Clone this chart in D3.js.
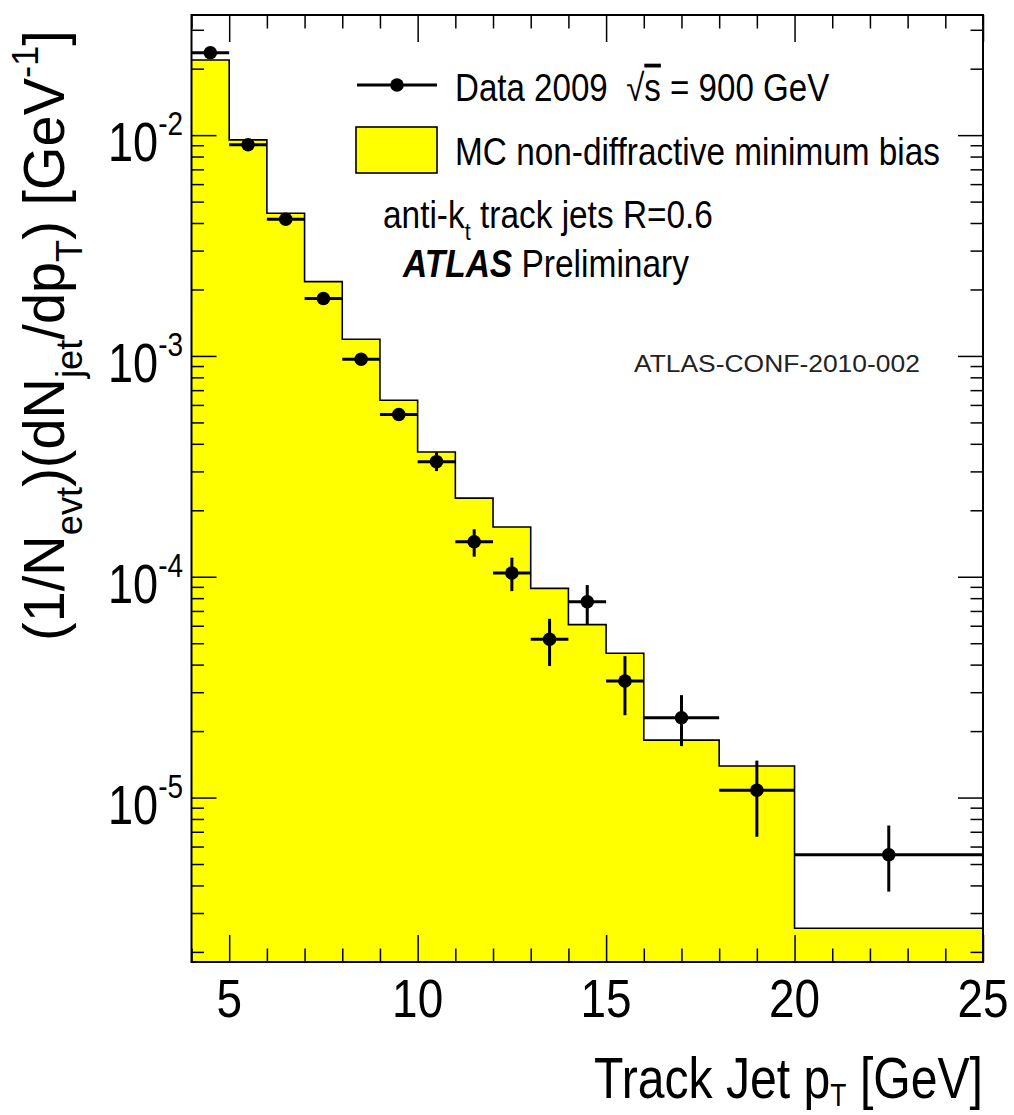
<!DOCTYPE html>
<html>
<head>
<meta charset="utf-8">
<script src="https://cdn.jsdelivr.net/npm/d3@7"></script>
<style>
  html, body { margin: 0; padding: 0; background: #fff; }
  svg { display: block; }
  text { font-family: "Liberation Sans", Arial, Helvetica, sans-serif; fill: #000; }
</style>
</head>
<body>
<svg id="chart" width="1014" height="1115"></svg>
<script>
// ---- data ----
const binEdges = [4, 5, 6, 7, 8, 9, 10, 11, 12, 13, 14, 15, 16, 18, 20, 25];
const mcValues = [0.0219, 0.00952, 0.00443, 0.00217, 0.00119, 0.00063, 0.000367, 0.000227,
                  0.000168, 0.0000886, 0.0000607, 0.0000450, 0.0000182, 0.0000139, 0.00000256];
const dataCenters = [4.5, 5.5, 6.5, 7.5, 8.5, 9.5, 10.5, 11.5, 12.5, 13.5, 14.5, 15.5, 17, 19, 22.5];
const dataValues = [0.0236, 0.00904, 0.00416, 0.00182, 0.000966, 0.000543, 0.000332, 0.000144,
                    0.000104, 0.0000521, 0.0000771, 0.0000337, 0.0000230, 0.0000108, 0.00000551];
const dataLow  = [0.0231, 0.00888, 0.00408, 0.00177, 0.000935, 0.000520, 0.000301, 0.0001233,
                  0.0000861, 0.0000394, 0.0000609, 0.0000236, 0.0000171, 0.00000664, 0.00000375];
const dataHigh = [0.0241, 0.00920, 0.00424, 0.00187, 0.000997, 0.000566, 0.000366, 0.000164,
                  0.000122, 0.0000645, 0.0000917, 0.0000437, 0.0000291, 0.0000147, 0.00000747];
const xMajorTicks = [5, 10, 15, 20, 25];
const yMajorExponents = [-5, -4, -3, -2];

// ---- layout ----
const L = 191.5, R = 983, T = 15, B = 962;
const svg = d3.select("#chart");
const x = d3.scaleLinear().domain([4, 25]).range([L, R]);
const y = d3.scaleLog().domain([1.8e-6, 0.035]).range([B, T]);

// rich text helper
function rich(parent, parts, o) {
  const t = parent.append("text").attr("font-size", o.size).attr("text-anchor", o.anchor || "start");
  if (o.fill) t.style("fill", o.fill);
  let cur = 0;
  parts.forEach(p => {
    const ts = t.append("tspan").text(p.t);
    const off = p.dy || 0;
    if (off !== cur) { ts.attr("dy", off - cur); cur = off; }
    if (p.fs) ts.attr("font-size", o.size * p.fs);
    if (p.bold) ts.attr("font-weight", "bold");
    if (p.italic) ts.attr("font-style", "italic");
    if (p.deco) ts.style("text-decoration", p.deco);
  });
  let sx = o.sx || 1;
  if (o.width) {
    const w = t.node().getBBox().width;
    sx = o.width / w;
  }
  t.attr("transform", `translate(${o.x},${o.y})${o.rotate ? ` rotate(${o.rotate})` : ""} scale(${sx},1)`);
  return t;
}

// ---- histogram (MC) ----
const histPts = binEdges.map((e, i) => [e, mcValues[Math.min(i, mcValues.length - 1)]]);
const area = d3.area().curve(d3.curveStepAfter).x(d => x(d[0])).y0(B).y1(d => y(d[1]));
const line = d3.line().curve(d3.curveStepAfter).x(d => x(d[0])).y(d => y(d[1]));
svg.append("path").datum(histPts).attr("d", area).attr("fill", "#ffff00");
svg.append("path").datum(histPts).attr("d", line).attr("fill", "none").attr("stroke", "#000").attr("stroke-width", 1.6);

// ---- data points ----
svg.append("clipPath").attr("id", "pc").append("rect").attr("x", L).attr("y", T).attr("width", R - L).attr("height", B - T);
const dg = svg.append("g").attr("clip-path", "url(#pc)");
dataCenters.forEach((c, i) => {
  const k = binEdges.findIndex((e, j) => e < c && binEdges[j + 1] > c);
  const lo = binEdges[k], hi = binEdges[k + 1];
  dg.append("line").attr("x1", x(lo)).attr("x2", x(hi)).attr("y1", y(dataValues[i])).attr("y2", y(dataValues[i]))
    .attr("stroke", "#000").attr("stroke-width", 3);
  dg.append("line").attr("x1", x(c)).attr("x2", x(c)).attr("y1", y(dataLow[i])).attr("y2", y(dataHigh[i]))
    .attr("stroke", "#000").attr("stroke-width", 3);
  dg.append("circle").attr("cx", x(c)).attr("cy", y(dataValues[i])).attr("r", 6.8).attr("fill", "#000");
});

// ---- axes / ticks (all four sides, inward) ----
const xMinor = d3.range(4, 26, 1).filter(v => !xMajorTicks.includes(v));
const yMinor = [];
for (let e = -6; e <= -2; e++) for (let k = 2; k <= 9; k++) { const v = k * Math.pow(10, e); if (v >= 1.8e-6 && v <= 0.035) yMinor.push(v); }
const yMajor = yMajorExponents.map(e => Math.pow(10, e));

function styleAxis(g) { g.select(".domain").remove(); g.selectAll("line").attr("stroke", "#000").attr("stroke-width", 1.5); g.selectAll("text").remove(); }

svg.append("g").attr("transform", `translate(0,${B})`).call(d3.axisBottom(x).tickValues(xMajorTicks).tickSize(-27)).call(styleAxis);
svg.append("g").attr("transform", `translate(0,${B})`).call(d3.axisBottom(x).tickValues(xMinor).tickSize(-13.5)).call(styleAxis);
svg.append("g").attr("transform", `translate(0,${T})`).call(d3.axisTop(x).tickValues(xMajorTicks).tickSize(-27)).call(styleAxis);
svg.append("g").attr("transform", `translate(0,${T})`).call(d3.axisTop(x).tickValues(xMinor).tickSize(-13.5)).call(styleAxis);
svg.append("g").attr("transform", `translate(${L},0)`).call(d3.axisLeft(y).tickValues(yMajor).tickSize(-25)).call(styleAxis);
svg.append("g").attr("transform", `translate(${L},0)`).call(d3.axisLeft(y).tickValues(yMinor).tickSize(-12.5)).call(styleAxis);
svg.append("g").attr("transform", `translate(${R},0)`).call(d3.axisRight(y).tickValues(yMajor).tickSize(-25)).call(styleAxis);
svg.append("g").attr("transform", `translate(${R},0)`).call(d3.axisRight(y).tickValues(yMinor).tickSize(-12.5)).call(styleAxis);

// frame
svg.append("rect").attr("x", L).attr("y", T).attr("width", R - L).attr("height", B - T)
  .attr("fill", "none").attr("stroke", "#000").attr("stroke-width", 2);

// tick labels
xMajorTicks.forEach(v => rich(svg, [{ t: String(v) }], { x: x(v), y: 1017, size: 54, sx: 0.85, anchor: "middle" }));
yMajorExponents.forEach(e => rich(svg, [{ t: "10" }, { t: String(e), fs: 0.62, dy: -26 }],
  { x: 183, y: y(Math.pow(10, e)) + 26, size: 55, sx: 0.82, anchor: "end" }));

// axis titles
rich(svg, [{ t: "Track Jet p" }, { t: "T", fs: 0.55, dy: 8 }, { t: " [GeV]", dy: 0 }],
  { x: 983, y: 1098, size: 58, width: 389, anchor: "end" });
rich(svg, [{ t: "(1/N" }, { t: "evt", fs: 0.65, dy: 18 }, { t: ")(dN", dy: 0 }, { t: "jet", fs: 0.65, dy: 18 },
           { t: "/dp", dy: 0 }, { t: "T", fs: 0.65, dy: 18 }, { t: ") [GeV", dy: 0 }, { t: "-1", fs: 0.65, dy: -26 }, { t: "]", dy: 0 }],
  { x: 64, y: 641, size: 57, width: 611, rotate: -90 });

// ---- legend ----
svg.append("line").attr("x1", 357).attr("x2", 437).attr("y1", 85).attr("y2", 85).attr("stroke", "#000").attr("stroke-width", 3);
svg.append("circle").attr("cx", 397).attr("cy", 85).attr("r", 6.8).attr("fill", "#000");
svg.append("rect").attr("x", 356).attr("y", 127).attr("width", 81).attr("height", 46)
  .attr("fill", "#ffff00").attr("stroke", "#000").attr("stroke-width", 1.6);
rich(svg, [{ t: "Data 2009\u00A0\u00A0\u221A" }, { t: "s", deco: "overline" }, { t: " = 900 GeV" }],
  { x: 455, y: 101, size: 38, width: 375 });
rich(svg, [{ t: "MC non-diffractive minimum bias" }], { x: 455, y: 165, size: 38, width: 485 });
rich(svg, [{ t: "anti-k" }, { t: "t", fs: 0.65, dy: 12 }, { t: " track jets R=0.6", dy: 0 }], { x: 383, y: 228, size: 38, width: 330 });
rich(svg, [{ t: "ATLAS", bold: true, italic: true }, { t: "\u00A0Preliminary" }], { x: 403, y: 277, size: 38, width: 287 });
rich(svg, [{ t: "ATLAS-CONF-2010-002" }], { x: 634, y: 372, size: 24, width: 286, fill: "#222" });
</script>
</body>
</html>
